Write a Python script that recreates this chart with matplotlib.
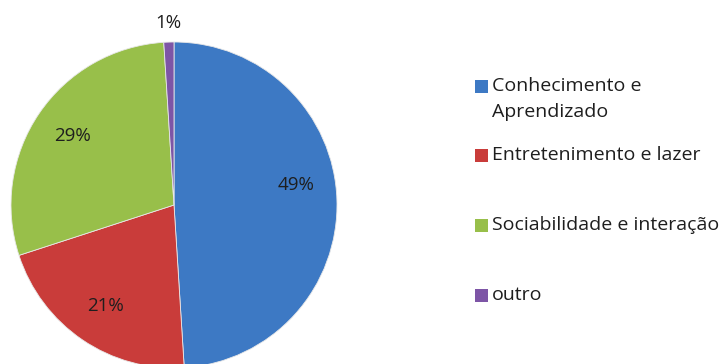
import matplotlib.pyplot as plt
from matplotlib.patches import Rectangle

categories = ['Conhecimento e\nAprendizado', 'Entretenimento e lazer',
              'Sociabilidade e interação', 'outro']
shares = [49, 21, 29, 1]
colors = ['#3d79c4', '#c93c3a', '#98bf4a', '#7d55a6']

plt.rcParams['font.family'] = ['Open Sans', 'DejaVu Sans']

W, H = 727, 364
fig = plt.figure(figsize=(W / 100, H / 100), dpi=100)
fig.patch.set_facecolor('white')

# pie centre and radius in pixels
cx, cy, r = 174, 205, 163
ax = fig.add_axes([(cx - r) / W, (H - cy - r) / H, 2 * r / W, 2 * r / H])

wedges, texts, autotexts = ax.pie(
    shares, colors=colors, startangle=90, counterclock=False,
    autopct='%1.0f%%', pctdistance=0.75,
    wedgeprops=dict(edgecolor='#e8e8e8', linewidth=0.6),
    textprops=dict(fontsize=13.5, color='#1e1e1e'))
ax.set_xlim(-1, 1)
ax.set_ylim(-1, 1)
ax.set_aspect('equal')
ax.axis('off')

# nudge labels like the original
x, y = autotexts[0].get_position()
autotexts[0].set_position((x, y + 0.1))
x, y = autotexts[3].get_position()
autotexts[3].set_position((x * 1.5, y * 1.49))

# legend drawn by hand (Excel style, handle on first line)
leg_y = [86, 155, 225, 295]
for lab, col, yy in zip(categories, colors, leg_y):
    fig.patches.append(Rectangle((475 / W, 1 - (yy + 6.5) / H), 13 / W, 13 / H,
                                 transform=fig.transFigure, facecolor=col,
                                 edgecolor='none'))
    for k, line in enumerate(lab.split('\n')):
        fig.text(492 / W, 1 - (yy + 26 * k) / H, line, fontsize=14,
                 va='center', ha='left', color='#1e1e1e',
                 transform=fig.transFigure)

fig.savefig('out.png', dpi=100)
